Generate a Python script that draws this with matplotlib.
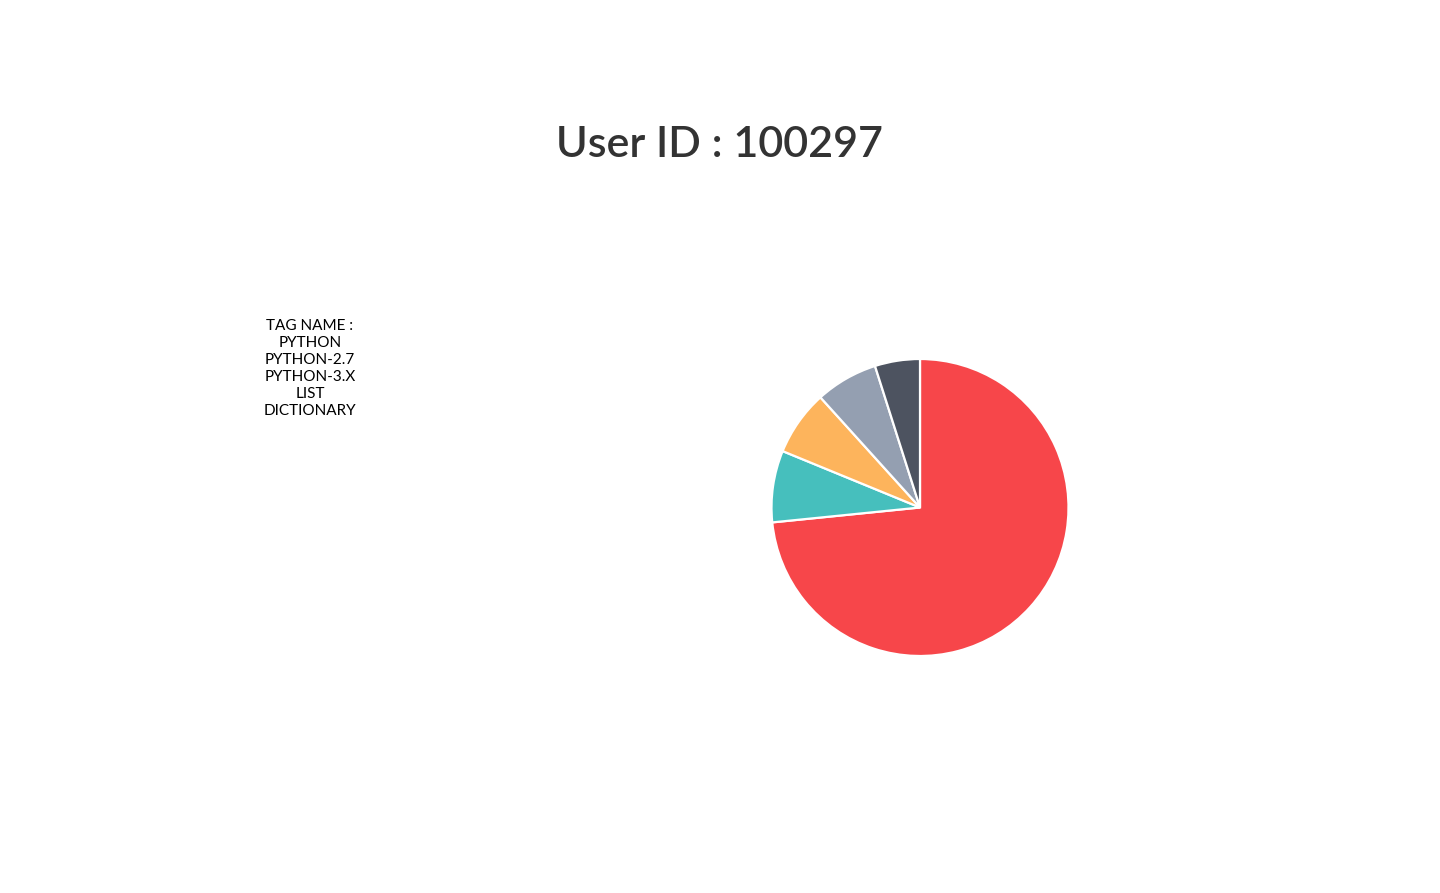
import matplotlib.pyplot as plt

USER_ID = "100297"
TAGS = ["PYTHON", "PYTHON-2.7", "PYTHON-3.X", "LIST", "DICTIONARY"]
SHARES = [73.4, 7.8, 7.1, 6.8, 4.9]
COLORS = ["#F7464A", "#46BFBD", "#FDB45C", "#949FB1", "#4D5360"]

W, H = 1440, 893
fig = plt.figure(figsize=(W / 100, H / 100), dpi=100)
fig.patch.set_facecolor("white")

# pie, centred at (920, 507) px, radius ~148 px
cx, cy, r = 920, 507.5, 148.5
ax = fig.add_axes([(cx - r) / W, (H - cy - r) / H, 2 * r / W, 2 * r / H])
ax.pie(SHARES, colors=COLORS, startangle=90, counterclock=False, radius=1,
       wedgeprops=dict(edgecolor="white", linewidth=1.6))
ax.set_xlim(-1, 1)
ax.set_ylim(-1, 1)
ax.set_aspect("equal")
ax.axis("off")

fig.text(0.5, 1 - 157 / H, "User ID : " + USER_ID, ha="center", va="baseline",
         fontsize=31, color="#333333", family="Lato", fontweight="semibold")

lines = ["TAG NAME :"] + TAGS
for i, line in enumerate(lines):
    fig.text(310 / W, 1 - (330 + 17 * i) / H, line, ha="center", va="baseline",
             fontsize=11, color="black", family="Lato")

fig.savefig("out.png", dpi=100)
